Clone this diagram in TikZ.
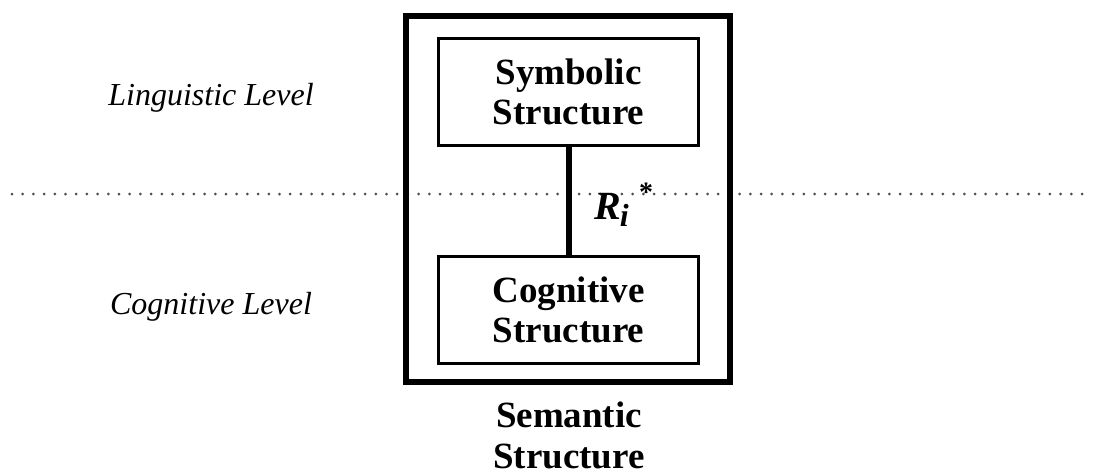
\documentclass[tikz,border=0pt]{standalone}
\usepackage{fontspec}
\setmainfont{Liberation Serif}
\begin{document}
\begin{tikzpicture}[x=1pt,y=-1pt,
  bold/.style={font=\bfseries\fontsize{37}{40}\selectfont,align=center},
  inner/.style={bold,draw,line width=3.5pt,minimum width=260pt,minimum height=107pt},
  level/.style={font=\itshape\fontsize{32}{32}\selectfont,anchor=base},
  dots/.style={line width=3pt,black!70,line cap=round,dash pattern=on 0pt off 10.7pt}]
\useasboundingbox (0,0) rectangle (1095,475);
\draw[dots] (12,194) -- (1092,194);
\draw[line width=6pt] (406,16) rectangle (730,382);
\node[inner] (sym) at (568.5,92) {Symbolic\\Structure};
\node[inner] (cog) at (568.5,310) {Cognitive\\Structure};
\draw[line width=6pt] (sym.south) -- (cog.north);
\node[font=\bfseries\itshape\fontsize{40}{40}\selectfont,anchor=base west,inner sep=0pt] (ri) at (594,219) {R\kern-1pt\raisebox{-7pt}{\fontsize{32}{32}\selectfont i}};
\node[font=\bfseries\fontsize{28}{28}\selectfont] (star) at (646,192) {*};
\node[level] (ling) at (211,105) {Linguistic Level};
\node[level] (cogl) at (211,314) {Cognitive Level};
\node[bold,font=\bfseries\fontsize{37}{41}\selectfont] (sem) at (569,435) {Semantic\\Structure};
\end{tikzpicture}
\end{document}
